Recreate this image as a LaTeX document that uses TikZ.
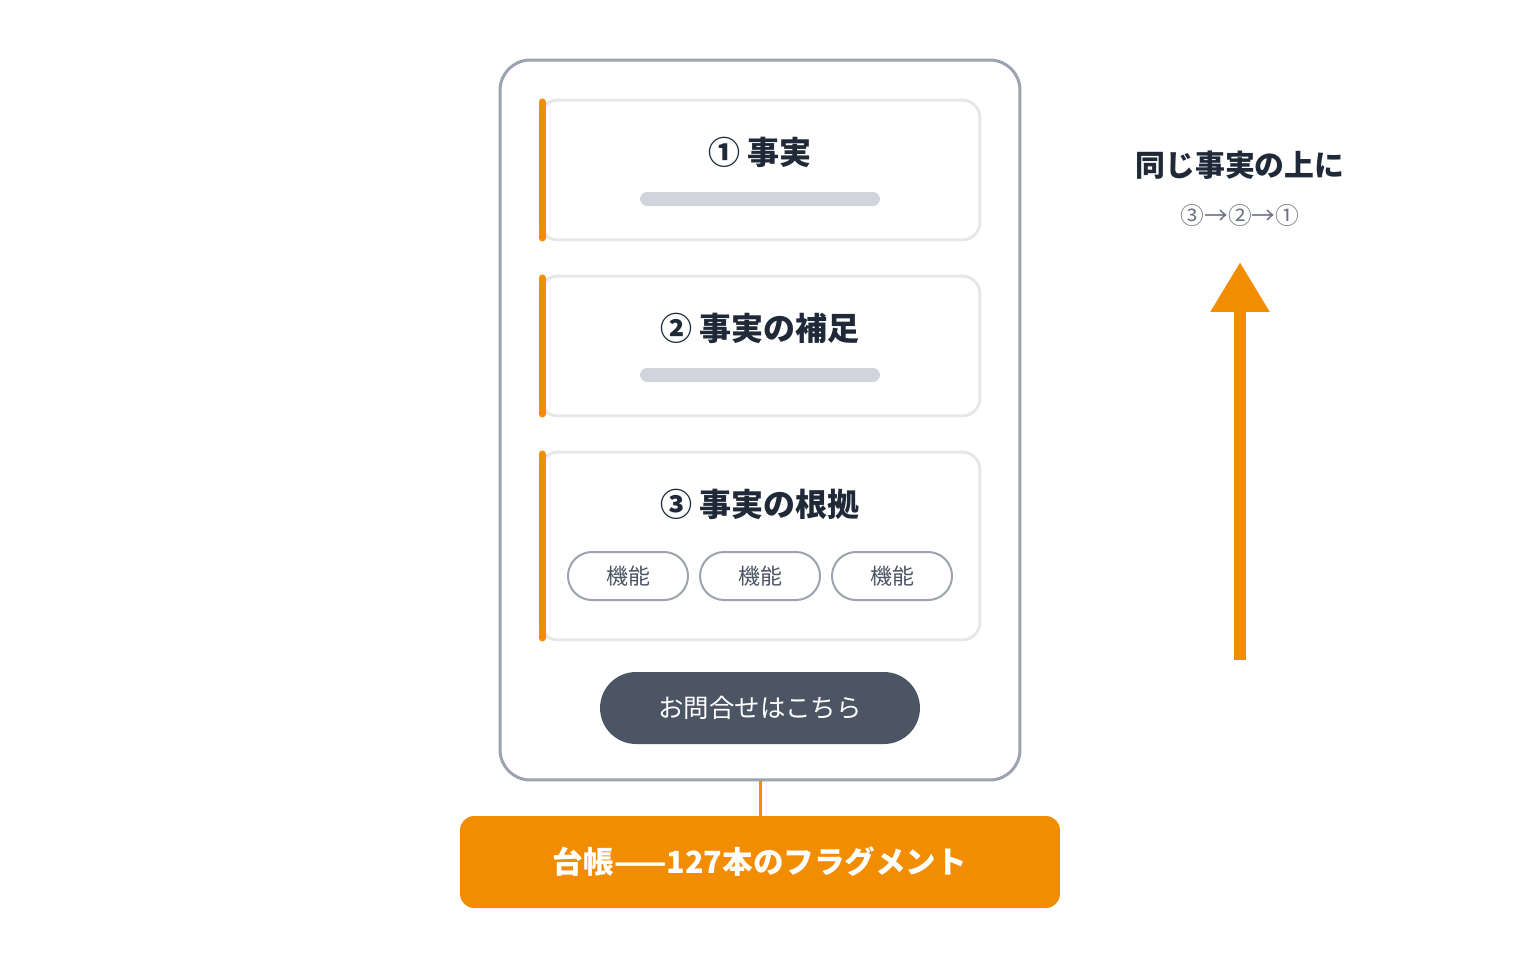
\documentclass[tikz,border=0pt]{standalone}
\usepackage{fontspec}
\setmainfont{Noto Sans CJK JP}
\usetikzlibrary{arrows.meta}
\definecolor{accent}{HTML}{F28C00}
\definecolor{ink}{HTML}{1F2937}
\definecolor{slate}{HTML}{4B5563}
\definecolor{mute}{HTML}{6B7280}
\definecolor{rim}{HTML}{9CA3AF}
\definecolor{edge}{HTML}{E5E7EB}
\definecolor{bar}{HTML}{D1D5DB}
\tikzset{
    card/.style={draw=edge, line width=0.06cm, fill=white, rounded corners=0.36cm, minimum width=8.8cm},
    pill/.style={draw=rim, line width=0.04cm, fill=white, rounded corners=0.48cm, minimum width=2.4cm, minimum height=0.96cm, text=slate, font=\fontsize{12.5}{15}\selectfont},
    title/.style={text=ink, font=\fontsize{18.2}{21}\selectfont\bfseries},
}
\begin{document}
\begin{tikzpicture}[x=0.02cm, y=-0.02cm]
        \fill[white] (0,0) rectangle (1520,960);
        \useasboundingbox (0,0) rectangle (1520,960);
        \node[draw=rim, line width=0.06cm, fill=white, rounded corners=0.6cm, minimum width=10.4cm, minimum height=14.4cm] (phone) at (760,420) {};
        \foreach \n/\y/\h/\ty/\l in {c1/170/2.8/152/{① 事実},c2/346/2.8/328/{② 事実の補足},c3/546/3.76/504/{③ 事実の根拠}}{
            \node[card, minimum height=\h cm] (\n) at (760,\y) {};
            \draw[accent, line width=0.14cm, line cap=round] ([xshift=0.07cm, yshift=-0.07cm]\n.north west) -- ([xshift=0.07cm, yshift=0.07cm]\n.south west);
            \node[title] (\n t) at (760,\ty) {\l};
        }
        \foreach \n/\y in {b1/199,b2/375}{
            \node[fill=bar, rounded corners=0.14cm, minimum width=4.8cm, minimum height=0.28cm, inner sep=0pt] (\n) at (760,\y) {};
        }
        \foreach \x/\n in {628/p1,760/p2,892/p3}{
            \node[pill] (\n) at (\x,576) {機能};
        }
        \node[fill=slate, rounded corners=0.72cm, minimum width=6.4cm, minimum height=1.44cm, text=white, font=\fontsize{14.5}{17}\selectfont] (ask) at (760,708) {お問合せはこちら};
        \node[fill=accent, rounded corners=0.28cm, minimum width=12cm, minimum height=1.84cm, text=white, font=\fontsize{17.4}{20}\selectfont\bfseries] (ledger) at (760,862) {台帳——127本のフラグメント};
        \draw[accent, line width=0.06cm] (phone.south) -- (ledger.north);
        \node[text=ink, font=\fontsize{17}{20}\selectfont\bfseries] (same) at (1240,165) {同じ事実の上に};
        \node[text=mute, font=\fontsize{13.5}{16}\selectfont] (order) at (1240,215) {③→②→①};
        \coordinate (foot) at (1240,660);
        \coordinate (tip) at (1240,262);
        \draw[accent, line width=0.24cm, -{Triangle[length=1cm, width=1.12cm]}] (foot) -- (tip);
    \end{tikzpicture}
\end{document}
